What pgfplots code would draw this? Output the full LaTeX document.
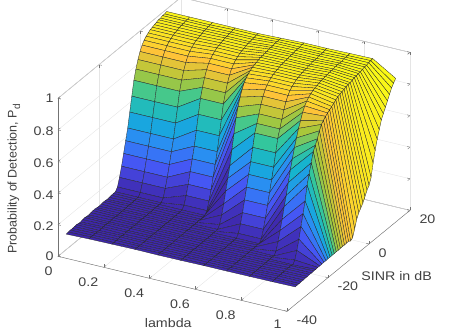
\documentclass[border=0pt]{standalone}
\usepackage{fontspec}
\setmainfont[FakeStretch=1.14]{Liberation Sans}
\newfontfamily\zfont{Liberation Sans}
\usepackage{pgfplots}
\pgfplotsset{compat=1.18}
\pgfplotsset{colormap={parula}{rgb255=(62,38,168) rgb255=(72,82,244) rgb255=(46,135,247) rgb255=(18,177,214) rgb255=(55,200,151) rgb255=(171,199,57) rgb255=(254,195,56) rgb255=(249,251,21)}}
\begin{document}
\begin{tikzpicture}
\path[use as bounding box] (0,0) rectangle (450pt,332pt);
\begin{axis}[
    at={(140pt,143pt)}, anchor=origin,
    x={(229pt,-55pt)}, y={(2.05pt,1.683pt)}, z={(0pt,158pt)},
    xmin=0, xmax=1, ymin=-40, ymax=20, zmin=0, zmax=1,
    xtick={0,0.2,0.4,0.6,0.8,1}, xticklabels={0,0.2,0.4,0.6,0.8,\raisebox{5pt}{1}},
    ytick={-40,-20,0,20}, yticklabels={-40,-20,0,20},
    ztick={0,0.2,0.4,0.6,0.8,1}, zticklabels={0,0.2,0.4,0.6,0.8,1},
    grid=major, grid style={black!10, line width=0.4pt},
    axis line style={black!55, line width=0.4pt},
    tick style={black!55, line width=0.4pt},
    tick align=inside, major tick length=3pt,
    ticklabel style={font=\fontsize{12.5}{14}\selectfont, text=black!75},
    label style={font=\fontsize{12.5}{14}\selectfont, text=black!75},
    xticklabel style={anchor=east, xshift=-2pt, yshift=-15pt},
    yticklabel style={anchor=west, xshift=6pt, yshift=-9pt},
    zticklabel style={xshift=-1pt, yshift=1.5pt},
    xlabel={lambda}, ylabel={SINR in dB},
    zlabel={\zfont Probability of Detection, P\raisebox{-0.5ex}{\fontsize{10}{10}\selectfont d}},
    xlabel style={xshift=16pt, yshift=4pt},
    ylabel style={xshift=8pt, yshift=36pt},
    zlabel style={yshift=6pt, xshift=7pt},
    colormap name=parula,
]
\addplot3[surf, shader=flat corner, draw=black!85, line width=0.3pt, mesh/ordering=y varies, mesh/rows=50, mesh/cols=11] coordinates {
(0,-36,0.098)(0,-35,0.1)(0,-34,0.102)(0,-33,0.101)(0,-32,0.103)(0,-31,0.104)(0,-30,0.102)(0,-29,0.1)(0,-28,0.104)(0,-27,0.106)(0,-26,0.104)(0,-25,0.102)(0,-24,0.105)(0,-23,0.107)(0,-22,0.108)(0,-21,0.105)(0,-20,0.104)(0,-19,0.106)(0,-18,0.108)(0,-17,0.107)(0,-16,0.105)(0,-15,0.107)(0,-14,0.109)(0,-13,0.11)(0,-12,0.11)(0,-11,0.13)(0,-10,0.18)(0,-9,0.24)(0,-8,0.31)(0,-7,0.38)(0,-6,0.45)(0,-5,0.54)(0,-4,0.63)(0,-3,0.72)(0,-2,0.78)(0,-1,0.83)(0,0,0.87)(0,1,0.9)(0,2,0.92)(0,3,0.935)(0,4,0.945)(0,5,0.955)(0,6,0.96)(0,7,0.965)(0,8,0.97)(0,9,0.975)(0,10,0.975)(0,11,0.98)(0,12,0.98)(0,13,0.985)

(0.1,-36,0.102)(0.1,-35,0.104)(0.1,-34,0.103)(0.1,-33,0.105)(0.1,-32,0.103)(0.1,-31,0.102)(0.1,-30,0.105)(0.1,-29,0.104)(0.1,-28,0.106)(0.1,-27,0.105)(0.1,-26,0.103)(0.1,-25,0.105)(0.1,-24,0.107)(0.1,-23,0.106)(0.1,-22,0.104)(0.1,-21,0.105)(0.1,-20,0.107)(0.1,-19,0.105)(0.1,-18,0.106)(0.1,-17,0.108)(0.1,-16,0.107)(0.1,-15,0.108)(0.1,-14,0.11)(0.1,-13,0.109)(0.1,-12,0.11)(0.1,-11,0.13)(0.1,-10,0.18)(0.1,-9,0.24)(0.1,-8,0.31)(0.1,-7,0.38)(0.1,-6,0.45)(0.1,-5,0.54)(0.1,-4,0.63)(0.1,-3,0.72)(0.1,-2,0.78)(0.1,-1,0.83)(0.1,0,0.87)(0.1,1,0.9)(0.1,2,0.92)(0.1,3,0.935)(0.1,4,0.945)(0.1,5,0.955)(0.1,6,0.96)(0.1,7,0.965)(0.1,8,0.97)(0.1,9,0.975)(0.1,10,0.975)(0.1,11,0.98)(0.1,12,0.98)(0.1,13,0.985)

(0.2,-36,0.104)(0.2,-35,0.103)(0.2,-34,0.106)(0.2,-33,0.104)(0.2,-32,0.106)(0.2,-31,0.105)(0.2,-30,0.103)(0.2,-29,0.106)(0.2,-28,0.104)(0.2,-27,0.107)(0.2,-26,0.105)(0.2,-25,0.106)(0.2,-24,0.104)(0.2,-23,0.106)(0.2,-22,0.108)(0.2,-21,0.106)(0.2,-20,0.107)(0.2,-19,0.105)(0.2,-18,0.108)(0.2,-17,0.106)(0.2,-16,0.108)(0.2,-15,0.109)(0.2,-14,0.108)(0.2,-13,0.11)(0.2,-12,0.11)(0.2,-11,0.13)(0.2,-10,0.18)(0.2,-9,0.24)(0.2,-8,0.31)(0.2,-7,0.38)(0.2,-6,0.45)(0.2,-5,0.54)(0.2,-4,0.63)(0.2,-3,0.72)(0.2,-2,0.78)(0.2,-1,0.83)(0.2,0,0.87)(0.2,1,0.9)(0.2,2,0.92)(0.2,3,0.935)(0.2,4,0.945)(0.2,5,0.955)(0.2,6,0.96)(0.2,7,0.965)(0.2,8,0.97)(0.2,9,0.975)(0.2,10,0.975)(0.2,11,0.98)(0.2,12,0.98)(0.2,13,0.985)

(0.3,-36,0.106)(0.3,-35,0.104)(0.3,-34,0.105)(0.3,-33,0.103)(0.3,-32,0.106)(0.3,-31,0.104)(0.3,-30,0.106)(0.3,-29,0.107)(0.3,-28,0.105)(0.3,-27,0.106)(0.3,-26,0.104)(0.3,-25,0.106)(0.3,-24,0.105)(0.3,-23,0.107)(0.3,-22,0.106)(0.3,-21,0.108)(0.3,-20,0.105)(0.3,-19,0.107)(0.3,-18,0.106)(0.3,-17,0.108)(0.3,-16,0.106)(0.3,-15,0.109)(0.3,-14,0.108)(0.3,-13,0.11)(0.3,-12,0.13)(0.3,-11,0.18)(0.3,-10,0.24)(0.3,-9,0.31)(0.3,-8,0.38)(0.3,-7,0.45)(0.3,-6,0.54)(0.3,-5,0.63)(0.3,-4,0.72)(0.3,-3,0.78)(0.3,-2,0.83)(0.3,-1,0.87)(0.3,0,0.9)(0.3,1,0.92)(0.3,2,0.935)(0.3,3,0.945)(0.3,4,0.955)(0.3,5,0.96)(0.3,6,0.965)(0.3,7,0.97)(0.3,8,0.975)(0.3,9,0.975)(0.3,10,0.98)(0.3,11,0.98)(0.3,12,0.985)(0.3,13,0.985)

(0.4,-36,0.105)(0.4,-35,0.107)(0.4,-34,0.104)(0.4,-33,0.106)(0.4,-32,0.105)(0.4,-31,0.107)(0.4,-30,0.106)(0.4,-29,0.104)(0.4,-28,0.107)(0.4,-27,0.106)(0.4,-26,0.108)(0.4,-25,0.107)(0.4,-24,0.105)(0.4,-23,0.107)(0.4,-22,0.109)(0.4,-21,0.106)(0.4,-20,0.107)(0.4,-19,0.109)(0.4,-18,0.107)(0.4,-17,0.108)(0.4,-16,0.11)(0.4,-15,0.108)(0.4,-14,0.11)(0.4,-13,0.11)(0.4,-12,0.13)(0.4,-11,0.18)(0.4,-10,0.24)(0.4,-9,0.31)(0.4,-8,0.38)(0.4,-7,0.45)(0.4,-6,0.54)(0.4,-5,0.63)(0.4,-4,0.72)(0.4,-3,0.78)(0.4,-2,0.83)(0.4,-1,0.87)(0.4,0,0.9)(0.4,1,0.92)(0.4,2,0.935)(0.4,3,0.945)(0.4,4,0.955)(0.4,5,0.96)(0.4,6,0.965)(0.4,7,0.97)(0.4,8,0.975)(0.4,9,0.975)(0.4,10,0.98)(0.4,11,0.98)(0.4,12,0.985)(0.4,13,0.985)

(0.5,-36,0.106)(0.5,-35,0.104)(0.5,-34,0.107)(0.5,-33,0.105)(0.5,-32,0.107)(0.5,-31,0.106)(0.5,-30,0.108)(0.5,-29,0.105)(0.5,-28,0.107)(0.5,-27,0.105)(0.5,-26,0.107)(0.5,-25,0.109)(0.5,-24,0.107)(0.5,-23,0.106)(0.5,-22,0.108)(0.5,-21,0.107)(0.5,-20,0.109)(0.5,-19,0.108)(0.5,-18,0.11)(0.5,-17,0.13)(0.5,-16,0.18)(0.5,-15,0.24)(0.5,-14,0.31)(0.5,-13,0.38)(0.5,-12,0.45)(0.5,-11,0.54)(0.5,-10,0.63)(0.5,-9,0.72)(0.5,-8,0.78)(0.5,-7,0.83)(0.5,-6,0.87)(0.5,-5,0.9)(0.5,-4,0.92)(0.5,-3,0.935)(0.5,-2,0.945)(0.5,-1,0.955)(0.5,0,0.96)(0.5,1,0.965)(0.5,2,0.97)(0.5,3,0.975)(0.5,4,0.975)(0.5,5,0.98)(0.5,6,0.98)(0.5,7,0.985)(0.5,8,0.985)(0.5,9,0.985)(0.5,10,0.99)(0.5,11,0.99)(0.5,12,0.99)(0.5,13,0.99)

(0.6,-36,0.108)(0.6,-35,0.106)(0.6,-34,0.107)(0.6,-33,0.108)(0.6,-32,0.105)(0.6,-31,0.108)(0.6,-30,0.106)(0.6,-29,0.108)(0.6,-28,0.107)(0.6,-27,0.109)(0.6,-26,0.108)(0.6,-25,0.107)(0.6,-24,0.109)(0.6,-23,0.108)(0.6,-22,0.11)(0.6,-21,0.109)(0.6,-20,0.11)(0.6,-19,0.13)(0.6,-18,0.18)(0.6,-17,0.24)(0.6,-16,0.31)(0.6,-15,0.38)(0.6,-14,0.45)(0.6,-13,0.52)(0.6,-12,0.6)(0.6,-11,0.68)(0.6,-10,0.73)(0.6,-9,0.78)(0.6,-8,0.83)(0.6,-7,0.87)(0.6,-6,0.9)(0.6,-5,0.92)(0.6,-4,0.935)(0.6,-3,0.945)(0.6,-2,0.955)(0.6,-1,0.96)(0.6,0,0.965)(0.6,1,0.97)(0.6,2,0.975)(0.6,3,0.975)(0.6,4,0.98)(0.6,5,0.98)(0.6,6,0.985)(0.6,7,0.985)(0.6,8,0.985)(0.6,9,0.99)(0.6,10,0.99)(0.6,11,0.99)(0.6,12,0.995)(0.6,13,0.995)

(0.7,-36,0.108)(0.7,-35,0.11)(0.7,-34,0.109)(0.7,-33,0.107)(0.7,-32,0.11)(0.7,-31,0.108)(0.7,-30,0.11)(0.7,-29,0.109)(0.7,-28,0.11)(0.7,-27,0.108)(0.7,-26,0.111)(0.7,-25,0.11)(0.7,-24,0.112)(0.7,-23,0.11)(0.7,-22,0.111)(0.7,-21,0.113)(0.7,-20,0.11)(0.7,-19,0.13)(0.7,-18,0.18)(0.7,-17,0.24)(0.7,-16,0.31)(0.7,-15,0.38)(0.7,-14,0.45)(0.7,-13,0.52)(0.7,-12,0.6)(0.7,-11,0.68)(0.7,-10,0.73)(0.7,-9,0.78)(0.7,-8,0.83)(0.7,-7,0.87)(0.7,-6,0.9)(0.7,-5,0.92)(0.7,-4,0.935)(0.7,-3,0.945)(0.7,-2,0.955)(0.7,-1,0.96)(0.7,0,0.965)(0.7,1,0.97)(0.7,2,0.975)(0.7,3,0.975)(0.7,4,0.98)(0.7,5,0.98)(0.7,6,0.985)(0.7,7,0.985)(0.7,8,0.985)(0.7,9,0.99)(0.7,10,0.99)(0.7,11,0.99)(0.7,12,0.995)(0.7,13,0.995)

(0.8,-36,0.109)(0.8,-35,0.108)(0.8,-34,0.11)(0.8,-33,0.109)(0.8,-32,0.108)(0.8,-31,0.11)(0.8,-30,0.109)(0.8,-29,0.111)(0.8,-28,0.11)(0.8,-27,0.112)(0.8,-26,0.111)(0.8,-25,0.113)(0.8,-24,0.11)(0.8,-23,0.13)(0.8,-22,0.18)(0.8,-21,0.24)(0.8,-20,0.3)(0.8,-19,0.37)(0.8,-18,0.43)(0.8,-17,0.5)(0.8,-16,0.57)(0.8,-15,0.63)(0.8,-14,0.69)(0.8,-13,0.74)(0.8,-12,0.79)(0.8,-11,0.83)(0.8,-10,0.87)(0.8,-9,0.9)(0.8,-8,0.92)(0.8,-7,0.935)(0.8,-6,0.945)(0.8,-5,0.955)(0.8,-4,0.96)(0.8,-3,0.965)(0.8,-2,0.97)(0.8,-1,0.975)(0.8,0,0.975)(0.8,1,0.98)(0.8,2,0.98)(0.8,3,0.985)(0.8,4,0.985)(0.8,5,0.985)(0.8,6,0.99)(0.8,7,0.99)(0.8,8,0.99)(0.8,9,0.99)(0.8,10,0.995)(0.8,11,0.995)(0.8,12,0.995)(0.8,13,0.998)

(0.9,-36,0.11)(0.9,-35,0.112)(0.9,-34,0.111)(0.9,-33,0.113)(0.9,-32,0.112)(0.9,-31,0.114)(0.9,-30,0.113)(0.9,-29,0.115)(0.9,-28,0.114)(0.9,-27,0.115)(0.9,-26,0.11)(0.9,-25,0.13)(0.9,-24,0.18)(0.9,-23,0.24)(0.9,-22,0.31)(0.9,-21,0.38)(0.9,-20,0.45)(0.9,-19,0.54)(0.9,-18,0.6)(0.9,-17,0.66)(0.9,-16,0.72)(0.9,-15,0.75)(0.9,-14,0.78)(0.9,-13,0.82)(0.9,-12,0.85)(0.9,-11,0.865)(0.9,-10,0.88)(0.9,-9,0.89)(0.9,-8,0.9)(0.9,-7,0.91)(0.9,-6,0.92)(0.9,-5,0.93)(0.9,-4,0.94)(0.9,-3,0.945)(0.9,-2,0.95)(0.9,-1,0.955)(0.9,0,0.96)(0.9,1,0.965)(0.9,2,0.965)(0.9,3,0.97)(0.9,4,0.975)(0.9,5,0.975)(0.9,6,0.98)(0.9,7,0.98)(0.9,8,0.985)(0.9,9,0.99)(0.9,10,0.99)(0.9,11,0.995)(0.9,12,0.998)(0.9,13,1)

(1,-36,0.112)(1,-35,0.113)(1,-34,0.112)(1,-33,0.114)(1,-32,0.113)(1,-31,0.115)(1,-30,0.114)(1,-29,0.116)(1,-28,0.115)(1,-27,0.117)(1,-26,0.116)(1,-25,0.118)(1,-24,0.117)(1,-23,0.118)(1,-22,0.119)(1,-21,0.118)(1,-20,0.12)(1,-19,0.119)(1,-18,0.12)(1,-17,0.12)(1,-16,0.121)(1,-15,0.12)(1,-14,0.121)(1,-13,0.122)(1,-12,0.121)(1,-11,0.122)(1,-10,0.123)(1,-9,0.115)(1,-8,0.125)(1,-7,0.17)(1,-6,0.22)(1,-5,0.25)(1,-4,0.27)(1,-3,0.29)(1,-2,0.32)(1,-1,0.35)(1,0,0.37)(1,1,0.41)(1,2,0.49)(1,3,0.56)(1,4,0.62)(1,5,0.67)(1,6,0.72)(1,7,0.75)(1,8,0.78)(1,9,0.81)(1,10,0.84)(1,11,0.87)(1,12,0.89)(1,13,0.91)
};
\end{axis}
\end{tikzpicture}
\end{document}
